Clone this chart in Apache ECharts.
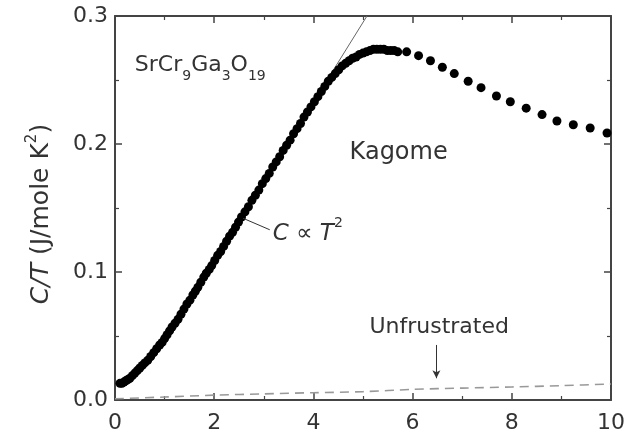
<!DOCTYPE html>
<html>
<head>
<meta charset="utf-8">
<script src="https://cdn.jsdelivr.net/npm/echarts@6/dist/echarts.min.js"></script>
<style>
  html, body { margin: 0; padding: 0; background: #fff; }
  #chart { width: 628px; height: 434px; }
</style>
</head>
<body>
<div id="chart"></div>
<script>
// SrCr9Ga3O19 kagome: C/T (J/mole K^2) against T (K)
var kagomeT = [0.10, 0.14, 0.18, 0.22, 0.26, 0.30, 0.35, 0.40, 0.45, 0.50,
  0.55, 0.60, 0.66, 0.72, 0.78, 0.84, 0.90, 0.95, 1.00, 1.05,
  1.10, 1.15, 1.21, 1.27, 1.33, 1.39, 1.45, 1.51, 1.57, 1.62,
  1.67, 1.73, 1.79, 1.84, 1.90, 1.95, 2.01, 2.07, 2.13, 2.19,
  2.25, 2.31, 2.37, 2.43, 2.49, 2.55, 2.62, 2.69, 2.76, 2.83,
  2.90, 2.97, 3.04, 3.11, 3.18, 3.25, 3.32, 3.39, 3.46, 3.53,
  3.60, 3.67, 3.74, 3.81, 3.88, 3.95, 4.02, 4.09, 4.16, 4.23,
  4.30, 4.37, 4.44, 4.51, 4.58, 4.65, 4.72, 4.79, 4.86, 4.93,
  5.00, 5.07, 5.14, 5.21, 5.28, 5.35, 5.42, 5.49, 5.56, 5.63,
  5.70, 5.88, 6.12, 6.36, 6.60, 6.84, 7.12, 7.38, 7.69, 7.97,
  8.29, 8.61, 8.91, 9.24, 9.58, 9.92];
var kagomeC = [0.013, 0.013, 0.014, 0.015, 0.016, 0.017, 0.019, 0.021, 0.023, 0.025,
  0.027, 0.029, 0.031, 0.034, 0.037, 0.040, 0.043, 0.045, 0.048, 0.051,
  0.054, 0.057, 0.060, 0.063, 0.067, 0.071, 0.075, 0.078, 0.082, 0.085,
  0.088, 0.092, 0.096, 0.099, 0.102, 0.105, 0.109, 0.113, 0.116, 0.120,
  0.124, 0.128, 0.131, 0.135, 0.139, 0.143, 0.147, 0.151, 0.156, 0.160,
  0.164, 0.169, 0.173, 0.177, 0.182, 0.186, 0.190, 0.195, 0.199, 0.203,
  0.208, 0.212, 0.216, 0.221, 0.225, 0.229, 0.233, 0.237, 0.241, 0.245,
  0.249, 0.252, 0.255, 0.258, 0.261, 0.263, 0.265, 0.267, 0.268, 0.270,
  0.271, 0.272, 0.273, 0.274, 0.274, 0.274, 0.274, 0.273, 0.273, 0.273,
  0.272, 0.272, 0.269, 0.265, 0.260, 0.255, 0.249, 0.244, 0.2375, 0.233,
  0.228, 0.223, 0.218, 0.215, 0.2125, 0.2086];

// unfrustrated reference compound (dashed)
var unfrT = [0, 1, 2, 3, 4, 5, 6, 7, 8, 9, 10];
var unfrC = [0.001, 0.0023, 0.0038, 0.0048, 0.0057, 0.0065, 0.0083, 0.0093, 0.0102, 0.0112, 0.0125];

// C ~ T^2 guide line (straight in C/T)
var powT = [0.9, 5.08];
var powC = [0.0396, 0.3];

var xTicks = [0, 2, 4, 6, 8, 10];
var yTicks = [0, 0.1, 0.2, 0.3];

function pairs(xs, ys) {
  var out = [];
  for (var i = 0; i < xs.length; i++) {
    out.push([xs[i], ys[i]]);
  }
  return out;
}

var font = 'DejaVu Sans';
var ink = '#333';
var chart = echarts.init(document.getElementById('chart'));

function frameAxis(pos, isX, showLabel) {
  var ax = {
    type: 'value',
    position: pos,
    min: isX ? xTicks[0] : yTicks[0],
    max: isX ? xTicks[xTicks.length - 1] : yTicks[yTicks.length - 1],
    interval: isX ? 2 : 0.1,
    axisLine: { show: true, onZero: false, lineStyle: { color: '#444', width: 2 } },
    axisTick: { show: true, inside: true, length: 7, lineStyle: { color: '#444', width: 1.5 } },
    minorTick: { show: true, splitNumber: 2, length: 4, lineStyle: { color: '#444', width: 1.2 } },
    splitLine: { show: false },
    axisLabel: {
      show: showLabel,
      color: ink,
      fontFamily: font,
      fontSize: 22,
      margin: isX ? 12 : 7,
      formatter: function (v) { return isX ? String(v) : v.toFixed(1); }
    }
  };
  return ax;
}

var yMain = frameAxis('left', false, true);
yMain.name = '{i|C/T} (J/mole K{s|2})';
yMain.nameLocation = 'middle';
yMain.nameGap = 58;
yMain.nameTextStyle = {
  color: ink, fontFamily: font, fontSize: 25,
  padding: [0, 12, 0, 0],
  rich: {
    i: { fontStyle: 'italic', fontFamily: font, fontSize: 25, color: ink },
    s: { fontFamily: font, fontSize: 15, color: ink, verticalAlign: 'top', lineHeight: 32 }
  }
};

var option = {
  animation: false,
  backgroundColor: '#fff',
  grid: { left: 115, right: 16, top: 16, bottom: 34 },
  xAxis: [frameAxis('bottom', true, true), frameAxis('top', true, false)],
  yAxis: [yMain, frameAxis('right', false, false)],
  series: [
    {
      name: 'T2',
      type: 'line',
      data: pairs(powT, powC),
      symbol: 'none',
      lineStyle: { color: '#666', width: 1 },
      z: 1
    },
    {
      name: 'Unfrustrated',
      type: 'line',
      data: pairs(unfrT, unfrC),
      symbol: 'none',
      smooth: 0.3,
      lineStyle: { color: '#999', width: 1.6, type: [9, 6] },
      markLine: {
        silent: true,
        symbol: ['none', 'arrow'],
        symbolSize: [6, 8],
        label: { show: false },
        lineStyle: { color: '#333', width: 1, type: 'solid' },
        data: [[{ coord: [6.48, 0.043] }, { coord: [6.48, 0.017] }]]
      },
      z: 1
    },
    {
      name: 'Kagome',
      type: 'scatter',
      data: pairs(kagomeT, kagomeC),
      symbol: 'circle',
      symbolSize: 9,
      itemStyle: { color: '#000', opacity: 1 },
      markLine: {
        silent: true,
        symbol: ['none', 'none'],
        label: { show: false },
        lineStyle: { color: '#333', width: 1, type: 'solid' },
        data: [[{ coord: [2.58, 0.142] }, { coord: [3.12, 0.133] }]]
      },
      z: 3
    }
  ]
};
chart.setOption(option);

function px(t, c) {
  return chart.convertToPixel({ xAxisIndex: 0, yAxisIndex: 0 }, [t, c]);
}

function label(t, c, text, rich) {
  var p = px(t, c);
  return {
    type: 'text',
    x: p[0],
    y: p[1],
    style: {
      text: text,
      fill: ink,
      font: '22px "' + font + '"',
      align: 'left',
      verticalAlign: 'middle',
      rich: rich
    },
    z: 10
  };
}

var subRich = {
  m: { fontFamily: font, fontSize: 22, fill: ink, lineHeight: 36 },
  b: { fontFamily: font, fontSize: 14, fill: ink, verticalAlign: 'bottom', lineHeight: 36 }
};
var supRich = {
  m: { fontFamily: font, fontSize: 23, fill: ink, lineHeight: 34 },
  it: { fontFamily: font, fontSize: 23, fontStyle: 'italic', fill: ink, lineHeight: 34 },
  p: { fontFamily: font, fontSize: 14, fill: ink, verticalAlign: 'top', lineHeight: 34 }
};

chart.setOption({
  graphic: [
    label(0.4, 0.2617, '{m|SrCr}{b|9}{m|Ga}{b|3}{m|O}{b|19}', subRich),
    label(4.73, 0.1934, '{m|Kagome}', { m: { fontFamily: font, fontSize: 24, fill: ink } }),
    label(3.18, 0.130, '{it|C}{m| \u221D }{it|T}{p|2}', supRich),
    label(5.13, 0.0566, '{m|Unfrustrated}', { m: { fontFamily: font, fontSize: 22, fill: ink } })
  ]
});
</script>
</body>
</html>
